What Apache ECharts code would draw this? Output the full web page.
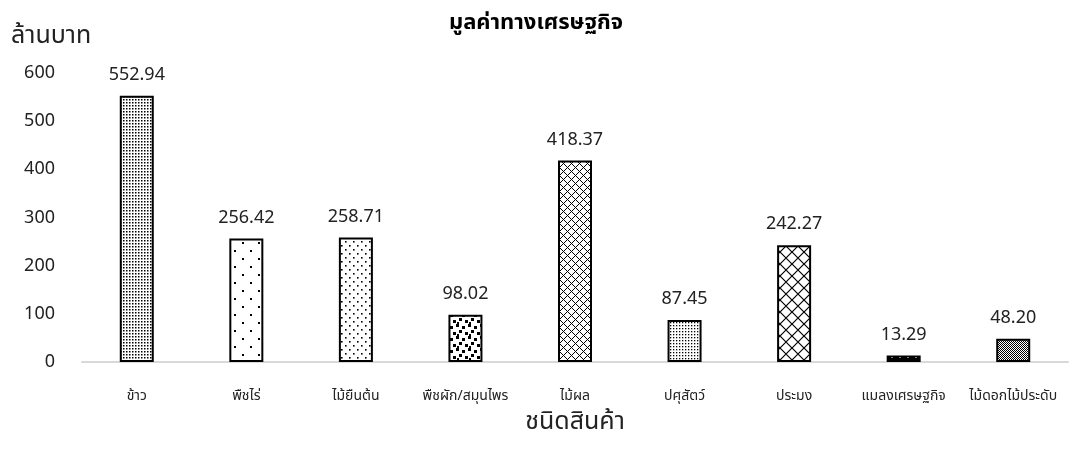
<!DOCTYPE html>
<html><head><meta charset="utf-8">
<script src="https://cdn.jsdelivr.net/npm/echarts@6/dist/echarts.min.js"></script>
<style>html,body{margin:0;padding:0;background:#fff}#c{width:1072px;height:450px}</style>
</head><body><div id="c"></div>
<script>
const categories = ['ข้าว','พืชไร่','ไม้ยืนต้น','พืชผัก/สมุนไพร','ไม้ผล','ปศุสัตว์','ประมง','แมลงเศรษฐกิจ','ไม้ดอกไม้ประดับ'];
const values = [552.94, 256.42, 258.71, 98.02, 418.37, 87.45, 242.27, 13.29, 48.20];
const yTicks = [0, 100, 200, 300, 400, 500, 600];
const titleText = 'มูลค่าทางเศรษฐกิจ';
const yName = 'ล้านบาท';
const xName = 'ชนิดสินค้า';

function pat(w, h, draw, bg) {
  const c = document.createElement('canvas');
  c.width = w; c.height = h;
  const g = c.getContext('2d');
  g.fillStyle = bg || '#fff'; g.fillRect(0, 0, w, h);
  g.fillStyle = '#000'; g.strokeStyle = '#000';
  draw(g);
  return c;
}
const patterns = [
  pat(3, 3, g => { g.fillRect(0, 0, 1.5, 1.5); }),
  pat(16, 16, g => { g.fillRect(2, 2, 2, 2); g.fillRect(10, 10, 2, 2); }),
  pat(8, 8, g => { g.fillRect(1, 1, 1.6, 1.6); g.fillRect(5, 5, 1.6, 1.6); }),
  pat(12, 12, g => { g.fillRect(0, 0, 3, 3); g.fillRect(6, 2, 3, 3); g.fillRect(3, 6, 3, 3); g.fillRect(9, 8, 3, 3); g.fillRect(1, 10, 2, 2); }),
  pat(8, 8, g => { g.fillRect(0, 0, 1, 1); g.fillRect(1, 1, 1, 1); g.fillRect(2, 2, 1, 1); g.fillRect(3, 3, 1, 1); g.fillRect(4, 2, 1, 1); g.fillRect(5, 1, 1, 1); g.fillRect(6, 0, 1, 1); g.fillRect(4, 4, 1, 1); g.fillRect(5, 5, 1, 1); g.fillRect(6, 6, 1, 1); g.fillRect(7, 7, 1, 1); g.fillRect(0, 6, 1, 1); g.fillRect(1, 5, 1, 1); g.fillRect(2, 4, 1, 1); }),
  pat(3, 3, g => { g.fillRect(1, 1, 1.3, 1.3); }),
  pat(12, 12, g => { g.lineWidth = 1.2; g.beginPath(); g.moveTo(0, 0); g.lineTo(12, 12); g.moveTo(12, 0); g.lineTo(0, 12); g.stroke(); }),
  pat(8, 6, g => { g.fillStyle = '#fff'; g.fillRect(3, 2, 2, 2); }, '#000'),
  pat(2, 2, g => { g.fillRect(0, 0, 1, 1); g.fillRect(1, 1, 1, 1); })
];

const chart = echarts.init(document.getElementById('c'));
const FONT = '"Noto Sans", "Noto Sans Thai", sans-serif';
chart.setOption({
  animation: false,
  textStyle: { fontFamily: FONT },
  title: [
    { text: titleText, left: 'center', top: 7, textStyle: { fontSize: 22, fontWeight: 'bold', color: '#000', fontFamily: FONT } },
    { text: yName, left: 6, top: 18, textStyle: { fontSize: 25, fontWeight: 'normal', color: '#222', fontFamily: FONT } }
  ],
  grid: { left: 82, right: 4, top: 73, bottom: 88 },
  xAxis: {
    type: 'category',
    data: categories,
    name: xName,
    nameLocation: 'middle',
    nameMoveOverlap: false,
    nameGap: 47,
    nameTextStyle: { fontSize: 25, color: '#222' },
    axisLine: { lineStyle: { color: '#d9d9d9', width: 2 } },
    axisTick: { show: false },
    axisLabel: { fontSize: 14, color: '#222', margin: 27, interval: 0 }
  },
  yAxis: {
    type: 'value',
    min: 0, max: 600, interval: 100,
    axisLine: { show: false },
    axisTick: { show: false },
    splitLine: { show: false },
    axisLabel: { fontSize: 18, color: '#222', margin: 27 }
  },
  series: [{
    type: 'bar',
    barWidth: 34,
    data: values.map((v, i) => ({
      value: v,
      itemStyle: { color: { image: patterns[i], repeat: 'repeat' }, borderColor: '#000', borderWidth: 2 }
    })),
    label: {
      show: true, position: 'top', distance: 12,
      fontSize: 18, color: '#222',
      formatter: p => p.value.toFixed(2)
    }
  }]
});
</script>
</body></html>
